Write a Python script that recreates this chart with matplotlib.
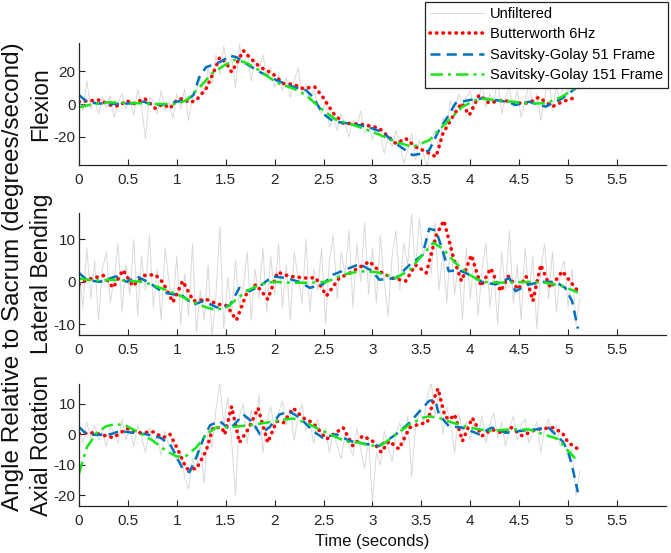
import numpy as np
import matplotlib.pyplot as plt

plt.rcParams['font.family'] = ['Liberation Sans', 'DejaVu Sans']
plt.rcParams['axes.unicode_minus'] = False

# ---- Flexion ----
flex_raw = [3, -4, 14, -3, 2, -6, 4, -2, 5, -8, 1, 6, -3, 3, -7, 9, -2, -21, 4, 2, -6, 8, -4, 1, -9,
            6, -3, 9, -10, 4, 8, 16, 6, 22, 12, 30, 18, 35, 22, 28, 10, 36, 24, 31, 14, 27, 20, 30, 16, 22,
            10, 18, 8, 16, 4, 14, 22, 6, 12, 2, 9, -2, -6, 2, -14, -8, -16, -6, -12, -20, -10, -14, -4, -18, -12,
            -22, -14, -18, -30, -20, -26, -16, -24, -36, -28, -18, -34, -22, -30, -38, -24, -16, -28, -8, -14, 2, -6, 6, -2, 4,
            8, -4, 2, 12, -2, 6, 0, 16, -6, 4, 10, -2, 8, -8, 2, 12, 0, 6, -10, 4, 18, -4, 10, 2, 14, 6, 20, 12, 9]
flex_bw_t = [0, 0.11, 0.21, 0.32, 0.4, 0.49, 0.55, 0.67, 0.78, 0.86, 0.93, 1.0, 1.06, 1.13, 1.2, 1.3, 1.37, 1.44,
             1.51, 1.56, 1.61, 1.68, 1.76, 1.85, 1.98, 2.09, 2.19, 2.29, 2.41, 2.49, 2.6, 2.7, 2.87, 3.0, 3.07,
             3.24, 3.34, 3.44, 3.55, 3.65, 3.72, 3.82, 3.91, 3.99, 4.09, 4.19, 4.33, 4.46, 4.6, 4.7, 4.84, 4.94, 5.1]
flex_bw = [1.4, 2, 2.4, -0.6, -1.2, 2, 0, 3.4, -2.6, 0, -2.6, 2.4, 3.4, 0.8, 2.4, 9.4, 18.4, 28.4,
           24.4, 19.4, 24.4, 32.4, 27.4, 22.4, 18.4, 12.4, 12, 9.4, 10.4, 4.4, -5.6, -11.6, -12.2, -13.6, -14.8,
           -24, -20.9, -26, -29, -32, -17.9, -7.7, 0.6, -6.7, 5.5, 0.6, 2.4, 0.6, 0.6, 4.1, -1.6, 1.4, 4.5]
flex_sg51_t = [0, 0.08, 0.18, 0.4, 0.55, 0.66, 0.76, 0.9, 1.0, 1.1, 1.17, 1.23, 1.3, 1.4, 1.47, 1.54, 1.61, 1.71,
               1.85, 2.02, 2.19, 2.32, 2.39, 2.49, 2.6, 2.73, 2.94, 3.1, 3.24, 3.41, 3.51, 3.58, 3.68, 3.78, 3.85,
               3.99, 4.12, 4.26, 4.4, 4.46, 4.6, 4.77, 4.94, 5.1]
flex_sg51 = [5.4, 1.4, 0.4, 0, 0.5, 1.4, -0.6, 0, 1.4, 2.4, 5.4, 16.4, 22.4, 24.4, 26.4, 29.4, 28.4, 24.4,
             19.4, 14.4, 10.4, 8.4, 4.4, -5.6, -10.6, -11.6, -13.6, -17, -24, -31, -30, -28, -15.9, -6.7, 0.6,
             2.4, 3.4, 2.4, 1, -0.6, 1.4, -1.6, 3.4, 10.6]
flex_sg151_t = [0, 0.15, 0.3, 0.6, 0.8, 1.0, 1.1, 1.23, 1.37, 1.5, 1.6, 1.71, 1.85, 2.02, 2.19, 2.32, 2.49, 2.63,
                2.8, 2.94, 3.07, 3.24, 3.41, 3.58, 3.75, 3.92, 4.09, 4.26, 4.43, 4.6, 4.77, 4.94, 5.1]
flex_sg151 = [-2, 0, 1, 0.5, 0, 0, 2.4, 10, 19, 24, 27, 25, 20, 13, 9.4, 5.4, -3.6, -9.6,
              -12.6, -15.6, -18.6, -23, -26, -22, -11.6, -1.6, 3.4, 2.4, 1.4, 0.4, 0.4, 4.5, 11]

# ---- Lateral bending ----
lat_raw = [2, -6, 8, -4, 5, -9, 3, 7, -5, 1, 9, -7, 4, -3, 10, -8, 6, -2, 11, -6, 3, -9, 8, 0, -5,
           6, -10, 2, -8, 9, -12, -2, -9, 4, -13, -3, 13, -11, 1, -8, 5, -6, -1, 7, -9, 3, -4, 8, -7, 6,
           -3, 9, -6, 4, -9, 7, 1, -5, 10, -7, 3, -2, 8, -10, 5, 11, -4, 7, 2, 12, -6, 9, 0, 14, -3,
           8, -5, 11, 0, -8, 6, 12, -2, 9, 4, 16, 3, 15, 6, 11, 2, 14, -2, 7, -5, 10, -3, 5, -9, 8,
           -4, 6, -8, 3, 9, -6, 2, -10, 7, -2, 12, -5, 4, -9, 8, -3, 6, -11, 3, 9, -4, 7, -7, 2, 5, -6, 3, -10, -4]
lat_bw_t = [0, 0.08, 0.25, 0.35, 0.45, 0.55, 0.66, 0.78, 0.86, 0.96, 1.06, 1.17, 1.3, 1.41, 1.51, 1.61, 1.71,
            1.81, 1.93, 2.03, 2.15, 2.32, 2.42, 2.53, 2.66, 2.77, 2.97, 3.07, 3.2, 3.34, 3.44, 3.55, 3.65, 3.73,
            3.83, 3.91, 4.01, 4.11, 4.21, 4.31, 4.39, 4.49, 4.57, 4.64, 4.72, 4.82, 4.94, 5.1]
lat_bw = [-0.6, 0.5, 1.5, -1.4, 2.8, -1, 1.5, 1.7, -0.2, -4.8, 0.2, -4.5, -4.1, -5.2, -5.6, -9, -2.9,
          -0.6, -4.1, 2.3, 1.3, 0.9, 1, -3.3, 0.9, 2.1, 4.8, 2.5, 0.9, 0.2, 4, 2.1, 10.9, 14.4,
          5.5, 0.2, 6.3, -1, 3.2, -2.2, 1.3, -1.8, 1.3, -4.5, 4, -1.4, 2.5, -2.2]
lat_sg51_t = [0, 0.08, 0.21, 0.38, 0.49, 0.59, 0.72, 0.86, 0.96, 1.06, 1.17, 1.27, 1.41, 1.54, 1.64, 1.74,
              1.85, 1.98, 2.12, 2.25, 2.36, 2.49, 2.6, 2.76, 2.87, 3.0, 3.07, 3.24, 3.38, 3.51, 3.58, 3.65,
              3.72, 3.78, 3.88, 3.99, 4.12, 4.26, 4.4, 4.46, 4.6, 4.74, 4.87, 4.97, 5.04, 5.1]
lat_sg51 = [2.1, 0.5, 0, 1.3, 0, 1.3, -0.2, -2.5, -2.9, -3.3, -5.4, -4.5, -6, -5.6, -1.4, -2.2,
            -1, 1.3, 0.9, 0, -1.4, -0.6, 1.7, 3.2, 4.2, 2.5, 0.5, 0.9, 4, 6.3, 12.5, 12.1,
            7.1, 2.5, 2.8, 1.7, 0, -0.6, 0.9, -2.2, -0.6, 0, 0, -1.4, -4.5, -11]
lat_sg151_t = [0, 0.15, 0.32, 0.66, 0.83, 1.0, 1.17, 1.3, 1.4, 1.51, 1.61, 1.71, 1.85, 1.98, 2.19, 2.36, 2.53,
               2.7, 2.87, 3.04, 3.24, 3.38, 3.51, 3.62, 3.72, 3.85, 3.99, 4.12, 4.33, 4.6, 4.77, 4.94, 5.1]
lat_sg151 = [0.8, 0.3, 0.5, 0, -1.4, -2.9, -4.8, -6, -6.6, -6, -4.1, -2.2, -0.6, 0, -0.2, -0.2, 0,
             1.7, 2.5, 2.3, 0.9, 2.8, 6.3, 9.2, 7.8, 4.4, 1.7, 0, -0.2, 0, -0.2, -1, -2.5]

# ---- Axial rotation ----
ax_raw = [2, -3, 4, -1, 3, -2, 1, -4, 3, 0, -3, 5, -2, 2, -4, 3, -1, -6, 2, -3, 0, -7, 1, -4, -2,
          -9, -6, -14, -18, -8, -12, -3, -16, 2, -4, 8, 17, 3, 12, -2, -20, 6, 10, -3, 8, 1, 13, -6, 4, 9,
          2, 7, 11, 3, 8, -2, 6, 10, 1, 4, -3, 5, -1, 2, -6, 1, -4, -8, 0, -3, -7, 2, -5, -11, -2,
          -22, -6, -10, 1, -4, -9, 0, 4, -3, 6, -14, 2, 8, 4, 12, 17, 6, 14, 0, 9, 3, -6, 7, 1, 4,
          -2, 5, 0, 6, -3, 3, 7, -1, 4, -4, 2, 6, -2, 3, 5, -3, 1, 4, -6, 2, 5, -1, 3, -4, -2, -8, -5, -20, -12]
ax_bw_t = [0, 0.15, 0.35, 0.49, 0.62, 0.76, 0.86, 0.93, 1.0, 1.1, 1.2, 1.3, 1.37, 1.46, 1.49, 1.56, 1.64,
           1.74, 1.83, 1.93, 2.02, 2.09, 2.19, 2.29, 2.39, 2.53, 2.7, 2.8, 2.9, 3.0, 3.09, 3.17, 3.27, 3.38,
           3.48, 3.56, 3.63, 3.67, 3.74, 3.79, 3.84, 3.92, 4.02, 4.12, 4.22, 4.32, 4.42, 4.53, 4.67, 4.84,
           4.94, 5.0, 5.1]
ax_bw = [0.2, 0.5, -1.1, 1.9, 0.5, 0.8, -1.1, 0, -4.3, -11.3, -11.3, -5.4, 2.2, 2.2, 0, 9.1, -2.7,
         2.2, 8.6, -2.7, 4.3, 3.8, 8.6, 5.4, 3.8, -1.6, 2.2, -3.8, -0.5, -2.2, -5.9, -2.2, -4.8, 2.2,
         3.4, 3.8, 11.8, 15, 5.9, 4.8, 6.5, -2.2, 5.4, -0.5, 1.6, 0.5, 2.2, -0.5, 1.6, 2.2,
         0.5, -2.7, -4.8]
ax_sg51_t = [0, 0.08, 0.18, 0.32, 0.42, 0.55, 0.69, 0.83, 0.93, 1.0, 1.06, 1.13, 1.2, 1.27, 1.34, 1.44, 1.54,
             1.68, 1.78, 1.85, 1.95, 2.05, 2.15, 2.26, 2.39, 2.49, 2.63, 2.77, 2.94, 3.07, 3.24, 3.38, 3.48,
             3.58, 3.64, 3.68, 3.78, 3.92, 4.09, 4.22, 4.36, 4.5, 4.67, 4.8, 4.94, 5.0, 5.05, 5.1]
ax_sg51 = [2.4, 0, -0.2, 0, 1.1, 0.5, 0, -1.1, -3.2, -7.5, -11.3, -12.4, -7.5, -1.6, 3, 4.3, 1.6,
           6.5, 3.8, 0, 2.4, 6.5, 7.5, 5.4, 1.1, -1.1, 0, -2.2, -3.2, -3.8, 0, 3.8, 7.5,
           11, 11.3, 6.5, 2.7, 2.2, 0, 2.2, 0.5, 1.1, 1.6, 2.2, -2.2, -5.4, -11.8, -19]
ax_sg151_t = [0, 0.08, 0.18, 0.28, 0.38, 0.49, 0.62, 0.76, 0.89, 1.0, 1.1, 1.2, 1.3, 1.4, 1.57, 1.74, 1.91,
              2.09, 2.19, 2.32, 2.46, 2.6, 2.73, 2.87, 2.97, 3.1, 3.24, 3.38, 3.51, 3.58, 3.68, 3.82, 3.99,
              4.19, 4.4, 4.6, 4.77, 4.9, 5.0, 5.1]
ax_sg151 = [-12.9, -4.3, 0.5, 2.7, 3.4, 2.7, 0.5, -2.2, -5.4, -7.3, -7, -4.3, 0, 2.2, 2.4, 3, 3.8,
            4.8, 5.2, 3.8, 1.6, -0.5, -2.4, -2.7, -3.8, -3.4, 0, 3.2, 5.4, 5.9, 5.4, 3.8, 2.2,
            1.1, 1.6, 1.6, -0.2, -1.6, -5.4, -8.8]

panel_names = ['Flexion', 'Lateral Bending', 'Axial Rotation']
panel_ylims = [(-37, 37), (-12.5, 16.2), (-23.5, 16.5)]
panel_yticks = [[-20, 0, 20], [-10, 0, 10], [-20, -10, 0, 10]]
panels = [
    (flex_raw, flex_bw_t, flex_bw, flex_sg51_t, flex_sg51, flex_sg151_t, flex_sg151),
    (lat_raw, lat_bw_t, lat_bw, lat_sg51_t, lat_sg51, lat_sg151_t, lat_sg151),
    (ax_raw, ax_bw_t, ax_bw, ax_sg51_t, ax_sg51, ax_sg151_t, ax_sg151),
]
xticks = [0, 0.5, 1, 1.5, 2, 2.5, 3, 3.5, 4, 4.5, 5, 5.5]
xticklabels = ['0', '0.5', '1', '1.5', '2', '2.5', '3', '3.5', '4', '4.5', '5', '5.5']

c_raw = '#d9d9d9'
c_bw = '#ff0000'
c_sg51 = '#0072bd'
c_sg151 = '#19e619'
axcol = '#262626'

fig = plt.figure(figsize=(6.71, 5.53), dpi=100)
bottoms = [0.7016, 0.3942, 0.085]
handles = None
for i, (raw, bt, bv, s1t, s1v, s2t, s2v) in enumerate(panels):
    ax = fig.add_axes([0.1177, bottoms[i], 0.8748, 0.2206])
    t_raw = np.linspace(0, 5.12, len(raw))
    h0, = ax.plot(t_raw, raw, color=c_raw, lw=0.7)
    h1, = ax.plot(bt, bv, color=c_bw, lw=2.6, ls=(0, (0.1, 1.7)), dash_capstyle='round')
    h2, = ax.plot(s1t, s1v, color=c_sg51, lw=1.8, ls=(0, (4, 2.5)))
    h3, = ax.plot(s2t, s2v, color=c_sg151, lw=1.8, ls=(0, (5, 2, 1.2, 2)))
    if handles is None:
        handles = [h0, h1, h2, h3]
    ax.set_xlim(0, 6)
    ax.set_ylim(*panel_ylims[i])
    ax.set_xticks(xticks)
    ax.set_xticklabels(xticklabels)
    ax.set_yticks(panel_yticks[i])
    ax.tick_params(direction='in', length=4, width=0.8, colors=axcol, labelsize=11)
    ax.tick_params(axis='x', pad=6)
    ax.tick_params(axis='y', pad=2.5)
    for s in ['top', 'right']:
        ax.spines[s].set_visible(False)
    for s in ['left', 'bottom']:
        ax.spines[s].set_color(axcol)
        ax.spines[s].set_linewidth(0.9)
    ax.set_ylabel(panel_names[i], fontsize=16.5, color='#111111')
    ax.yaxis.set_label_coords(-0.045, 0.5)
    if i == 2:
        ax.set_xlabel('Time (seconds)', fontsize=12, color='#111111')

fig.text(0.0198, 0.5, 'Angle Relative to Sacrum (degrees/second)', rotation=90,
         ha='center', va='center', fontsize=17.5, color='#111111')

leg = fig.legend(handles, ['Unfiltered', 'Butterworth 6Hz', 'Savitsky-Golay 51 Frame',
                           'Savitsky-Golay 151 Frame'],
                 loc='upper right', bbox_to_anchor=(0.996, 0.997), fontsize=10.5,
                 handlelength=3.7, handletextpad=0.4, labelspacing=0.45, borderpad=0.35,
                 borderaxespad=0, fancybox=False, framealpha=1)
leg.get_frame().set_edgecolor(axcol)
leg.get_frame().set_linewidth(0.9)

fig.savefig('out.png', dpi=100)
